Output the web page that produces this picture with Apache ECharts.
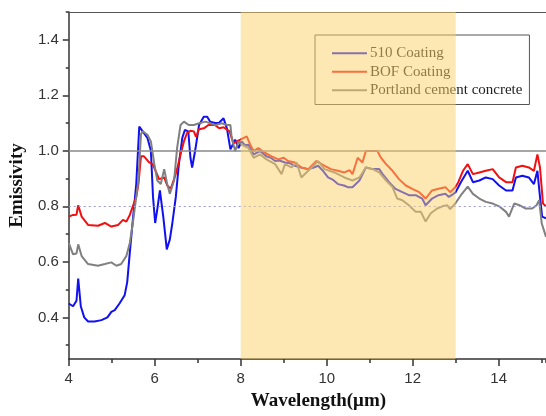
<!DOCTYPE html>
<html>
<head>
<meta charset="utf-8">
<script src="https://cdn.jsdelivr.net/npm/echarts@6/dist/echarts.min.js"></script>
<style>
  html, body { margin: 0; padding: 0; background: #fff; }
  #chart { width: 546px; height: 416px; }
</style>
</head>
<body>
<div id="chart"></div>
<script>
// wavelength (um) / emissivity pairs
const coating510 = [
  [4.0, 0.45], [4.1, 0.44], [4.18, 0.46], [4.22, 0.54], [4.28, 0.44], [4.36, 0.40], [4.45, 0.385],
  [4.6, 0.385], [4.76, 0.39], [4.9, 0.40], [4.99, 0.42], [5.07, 0.426], [5.18, 0.45], [5.3, 0.48],
  [5.36, 0.527], [5.42, 0.633], [5.49, 0.75], [5.57, 0.88], [5.64, 1.087], [5.72, 1.07], [5.83, 1.046],
  [5.91, 1.0], [5.96, 0.834], [6.01, 0.74], [6.06, 0.79], [6.12, 0.857], [6.2, 0.76], [6.28, 0.645],
  [6.35, 0.68], [6.41, 0.74], [6.49, 0.834], [6.56, 0.95], [6.64, 1.046], [6.7, 1.075], [6.78, 1.07],
  [6.83, 0.975], [6.87, 0.94], [6.95, 1.01], [7.03, 1.093], [7.14, 1.123], [7.22, 1.123], [7.29, 1.105],
  [7.4, 1.1], [7.49, 1.1], [7.6, 1.117], [7.68, 1.08], [7.76, 1.005], [7.8, 1.01], [7.87, 1.04],
  [7.95, 1.01], [8.02, 1.034], [8.1, 1.02], [8.18, 1.022], [8.3, 0.987], [8.45, 0.999], [8.6, 0.98],
  [8.7, 0.975], [8.8, 0.963], [8.9, 0.965], [9.03, 0.958], [9.15, 0.955], [9.26, 0.946], [9.4, 0.94],
  [9.57, 0.934], [9.7, 0.94], [9.8, 0.946], [9.9, 0.93], [10.03, 0.904], [10.15, 0.895], [10.26, 0.88],
  [10.4, 0.875], [10.49, 0.869], [10.6, 0.869], [10.76, 0.893], [10.91, 0.94], [11.07, 0.934],
  [11.22, 0.934], [11.3, 0.916], [11.45, 0.887], [11.6, 0.863], [11.76, 0.851], [11.91, 0.84],
  [12.07, 0.84], [12.22, 0.828], [12.3, 0.804], [12.45, 0.828], [12.6, 0.84], [12.76, 0.845],
  [12.84, 0.834], [12.95, 0.845], [13.0, 0.851], [13.12, 0.887], [13.28, 0.928], [13.4, 0.887],
  [13.55, 0.893], [13.7, 0.904], [13.86, 0.898], [14.01, 0.875], [14.17, 0.857], [14.32, 0.857],
  [14.4, 0.904], [14.55, 0.91], [14.7, 0.904], [14.82, 0.88], [14.9, 0.928], [14.96, 0.834],
  [15.01, 0.763], [15.1, 0.757]
]

const coatingBOF = [
  [4.0, 0.763], [4.1, 0.769], [4.18, 0.77], [4.22, 0.804], [4.3, 0.763], [4.45, 0.733], [4.68, 0.73],
  [4.84, 0.74], [4.99, 0.727], [5.15, 0.733], [5.26, 0.751], [5.34, 0.745], [5.42, 0.769], [5.49, 0.8],
  [5.57, 0.834], [5.62, 0.88], [5.68, 0.98], [5.75, 0.98], [5.87, 0.958], [5.95, 0.952], [6.02, 0.928],
  [6.1, 0.898], [6.22, 0.904], [6.29, 0.875], [6.37, 0.863], [6.45, 0.898], [6.52, 0.934], [6.6, 0.987],
  [6.68, 1.034], [6.75, 1.064], [6.83, 1.072], [6.91, 1.07], [6.96, 1.05], [7.03, 1.078], [7.14, 1.081],
  [7.25, 1.093], [7.4, 1.093], [7.5, 1.081], [7.6, 1.085], [7.74, 1.07], [7.83, 1.028], [7.99, 1.04],
  [8.06, 1.046], [8.14, 1.052], [8.22, 1.022], [8.3, 0.999], [8.41, 1.01], [8.56, 0.993], [8.72, 0.98],
  [8.87, 0.969], [9.0, 0.975], [9.1, 0.963], [9.26, 0.958], [9.41, 0.94], [9.57, 0.934], [9.76, 0.963],
  [9.95, 0.946], [10.1, 0.934], [10.26, 0.928], [10.41, 0.922], [10.53, 0.93], [10.6, 0.916],
  [10.72, 0.975], [10.83, 0.958], [10.91, 0.999], [11.07, 0.999], [11.18, 0.999], [11.26, 0.975],
  [11.38, 0.952], [11.53, 0.928], [11.68, 0.898], [11.84, 0.875], [11.99, 0.863], [12.15, 0.851],
  [12.3, 0.828], [12.45, 0.857], [12.6, 0.863], [12.76, 0.869], [12.87, 0.851], [12.99, 0.869],
  [13.06, 0.887], [13.17, 0.928], [13.28, 0.952], [13.4, 0.916], [13.55, 0.922], [13.7, 0.928],
  [13.86, 0.934], [14.01, 0.904], [14.17, 0.887], [14.32, 0.887], [14.4, 0.94], [14.55, 0.946],
  [14.7, 0.94], [14.82, 0.928], [14.9, 0.987], [14.96, 0.94], [15.03, 0.81], [15.1, 0.8]
]

const portlandConcrete = [
  [4.0, 0.668], [4.1, 0.627], [4.18, 0.63], [4.22, 0.663], [4.3, 0.621], [4.45, 0.592], [4.68, 0.586],
  [4.84, 0.592], [4.99, 0.598], [5.11, 0.586], [5.22, 0.592], [5.34, 0.621], [5.42, 0.668], [5.49, 0.739],
  [5.57, 0.834], [5.62, 0.893], [5.68, 1.06], [5.72, 1.07], [5.83, 1.058], [5.91, 1.034], [5.99, 0.952],
  [6.06, 0.893], [6.14, 0.88], [6.22, 0.934], [6.29, 0.88], [6.35, 0.845], [6.45, 0.893], [6.52, 1.01],
  [6.6, 1.093], [6.68, 1.105], [6.79, 1.093], [6.91, 1.093], [7.03, 1.099], [7.18, 1.105], [7.41, 1.093],
  [7.56, 1.099], [7.68, 1.093], [7.76, 1.093], [7.79, 1.046], [7.87, 0.999], [7.95, 1.034], [8.02, 1.022],
  [8.18, 1.01], [8.3, 0.975], [8.45, 0.987], [8.6, 0.969], [8.8, 0.952], [8.95, 0.916], [9.03, 0.952],
  [9.18, 0.94], [9.3, 0.958], [9.41, 0.904], [9.57, 0.928], [9.8, 0.963], [9.95, 0.934], [10.18, 0.922],
  [10.41, 0.904], [10.6, 0.893], [10.76, 0.904], [10.91, 0.94], [11.07, 0.934], [11.22, 0.922],
  [11.38, 0.893], [11.53, 0.869], [11.64, 0.828], [11.76, 0.822], [11.91, 0.804], [12.07, 0.78],
  [12.19, 0.78], [12.3, 0.745], [12.42, 0.775], [12.57, 0.792], [12.69, 0.8], [12.8, 0.804],
  [12.87, 0.79], [12.99, 0.81], [13.12, 0.84], [13.28, 0.871], [13.4, 0.845], [13.55, 0.828],
  [13.7, 0.816], [13.86, 0.81], [14.01, 0.8], [14.17, 0.78], [14.24, 0.763], [14.36, 0.81],
  [14.47, 0.805], [14.63, 0.792], [14.78, 0.792], [14.88, 0.804], [14.94, 0.822], [15.0, 0.739],
  [15.1, 0.69]
]

const seriesNames = ['510 Coating', 'BOF Coating', 'Portland cement concrete']
const seriesColors = ['#1010f0', '#f01010', '#808080']
const yMajorTicks = [0.4, 0.6, 0.8, 1.0, 1.2, 1.4]
const yMinorTicks = [0.3, 0.5, 0.7, 0.9, 1.1, 1.3, 1.5]
const atmWindow = [8, 13]

const chart = echarts.init(document.getElementById('chart'))

const tickFont = { fontFamily: 'Liberation Sans', fontSize: 15, color: '#333' }
const titleFont = { fontFamily: 'Liberation Serif', fontSize: 19, fontWeight: 'bold', color: '#111' }

const lines = [coating510, coatingBOF, portlandConcrete].map((data, i) => ({
  name: seriesNames[i],
  type: 'line',
  data: data,
  showSymbol: false,
  symbol: 'none',
  z: 2,
  lineStyle: { color: seriesColors[i], width: 2 },
  itemStyle: { color: seriesColors[i] }
}))

// reference lines at 1.0 and 0.8
lines[0].markLine = {
  silent: true,
  symbol: 'none',
  label: { show: false },
  z: 3,
  data: [
    { yAxis: 1.0, lineStyle: { color: '#888', width: 1.5, type: 'solid' } },
    { yAxis: 0.8, lineStyle: { color: '#9a9ae0', width: 1, type: [2, 3] } }
  ]
}

const option = {
  animation: false,
  backgroundColor: '#fff',
  grid: { left: 65, right: 0, top: 12, bottom: 51 },
  legend: {
    orient: 'vertical',
    left: 315,
    top: 35,
    data: seriesNames,
    icon: 'rect',
    itemWidth: 35,
    itemHeight: 2,
    itemGap: 2,
    padding: [10, 7, 6, 17],
    borderColor: '#555',
    borderWidth: 1,
    textStyle: { fontFamily: 'Liberation Serif', fontSize: 15, color: '#222', lineHeight: 16.5, padding: [0, 0, 0, -2] }
  },
  xAxis: [
    {
      type: 'value',
      min: 4,
      max: 15.1,
      interval: 2,
      name: 'Wavelength(μm)',
      nameLocation: 'middle',
      nameGap: 33,
      nameTextStyle: Object.assign({ padding: [0, 0, 0, 22] }, titleFont),
      axisLine: { show: true, lineStyle: { color: '#333', width: 1.5 } },
      axisTick: { show: true, length: 7, lineStyle: { color: '#333', width: 1.5 } },
      axisLabel: Object.assign({ margin: 12, showMaxLabel: false }, tickFont),
      splitLine: { show: false }
    },
    {
      type: 'value',
      position: 'bottom',
      min: 4,
      max: 15.1,
      interval: 1,
      axisLine: { show: false },
      axisTick: { show: true, length: 4, lineStyle: { color: '#333', width: 1.5 } },
      axisLabel: { show: false },
      splitLine: { show: false }
    },
    {
      type: 'value',
      position: 'top',
      min: 4,
      max: 15.1,
      axisLine: { show: true, lineStyle: { color: '#555', width: 1 } },
      axisTick: { show: false },
      axisLabel: { show: false },
      splitLine: { show: false }
    }
  ],
  yAxis: [
    {
      type: 'value',
      min: 0.25,
      max: 1.5,
      name: 'Emissivity',
      nameLocation: 'middle',
      nameGap: 36,
      nameTextStyle: titleFont,
      axisLine: { show: true, lineStyle: { color: '#333', width: 1.5 } },
      axisTick: { show: true, length: 6, customValues: yMajorTicks, lineStyle: { color: '#333', width: 1.5 } },
      axisLabel: Object.assign({
        margin: 10,
        customValues: yMajorTicks,
        formatter: v => v.toFixed(1)
      }, tickFont),
      splitLine: { show: false }
    },
    {
      type: 'value',
      position: 'left',
      min: 0.25,
      max: 1.5,
      axisLine: { show: false },
      axisTick: { show: true, length: 3, customValues: yMinorTicks, lineStyle: { color: '#333', width: 1.5 } },
      axisLabel: { show: false },
      splitLine: { show: false }
    }
  ],
  series: lines.concat([
    {
      // translucent atmospheric-window band drawn over the curves
      name: 'window',
      type: 'line',
      data: [],
      z: 10,
      markArea: {
        silent: true,
        z: 10,
        itemStyle: { color: 'rgba(251, 209, 105, 0.5)' },
        data: [[{ xAxis: atmWindow[0] }, { xAxis: atmWindow[1] }]]
      }
    }
  ])
}

chart.setOption(option)
</script>
</body>
</html>
